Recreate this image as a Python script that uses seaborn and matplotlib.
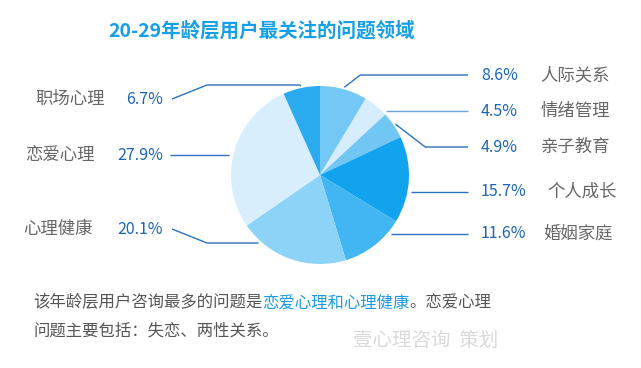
import numpy as np
import matplotlib.pyplot as plt
import seaborn as sns

# data
categories = ["人际关系", "情绪管理", "亲子教育", "个人成长", "婚姻家庭", "心理健康", "恋爱心理", "职场心理"]
shares = [8.6, 4.5, 4.9, 15.7, 11.6, 20.1, 27.9, 6.7]
slice_hex = ["#74c8f6", "#d5edfc", "#72c6f4", "#12a3ee", "#41b6f3", "#8dd3f8", "#d8eefc", "#2aabf0"]

title = "20-29年龄层用户最关注的问题领域"
note_line1 = ["该年龄层用户咨询最多的问题是", "恋爱心理和心理健康", "。恋爱心理"]
note_line2 = "问题主要包括：失恋、两性关系。"
credit = "壹心理咨询  策划"

sns.set_theme(style="white")
plt.rcParams['font.family'] = ['Noto Sans CJK SC', 'DejaVu Sans']

BLUE_TITLE = "#149fe8"
PCT_BLUE = "#1c64b4"
LINE_BLUE = "#2a72c0"
GREY = "#555555"
NAME_GREY = "#666666"

W, H = 641, 368
CX, CY, R = 320, 175, 89

# label layout in pixels: side, text y, leader y, name x
label_layout = {
    "人际关系": ("right", 75, 75, 540),
    "情绪管理": ("right", 111, 111, 541),
    "亲子教育": ("right", 147, 147, 541),
    "个人成长": ("right", 192, 192, 547),
    "婚姻家庭": ("right", 234, 234, 543),
    "心理健康": ("left", 229, 243, 93),
    "恋爱心理": ("left", 155, 155, 95),
    "职场心理": ("left", 99, 85, 105),
}

fig = plt.figure(figsize=(W / 100, H / 100), dpi=100)
fig.patch.set_facecolor("white")

# pie axes, square in pixels
pad = 1.1
ax = fig.add_axes([(CX - R * pad) / W, (H - CY - R * pad) / H, 2 * R * pad / W, 2 * R * pad / H])
colors = sns.color_palette(slice_hex)
wedges, _ = ax.pie(shares, colors=colors, startangle=90, counterclock=False,
                   wedgeprops=dict(linewidth=0))
ax.set_xlim(-pad, pad)
ax.set_ylim(-pad, pad)
ax.axis("off")

# overlay in pixel coords for texts and leader lines
ov = fig.add_axes([0, 0, 1, 1])
ov.set_xlim(0, W)
ov.set_ylim(H, 0)
ov.axis("off")
ov.patch.set_alpha(0)


def leader_points(w, side, line_y, text_y):
    sign = 1 if side == "right" else -1
    t1, t2 = w.theta1, w.theta2
    dy = CY - line_y
    pts = None
    if abs(dy) < R:
        dx = sign * np.sqrt(R ** 2 - dy ** 2)
        ang = np.degrees(np.arctan2(dy, dx))
        for a in (ang, ang - 360, ang + 360):
            if t1 <= a <= t2:
                pts = [(CX + dx + sign * 4, line_y)]
                break
    if pts is None:
        mid = np.radians((t1 + t2) / 2)
        sx = CX + (R + 2) * np.cos(mid)
        sy = CY - (R + 2) * np.sin(mid)
        pts = [(sx, sy), (sx + sign * abs(sy - line_y) * 1.3, line_y)]
    if side == "right":
        pts.append((468, line_y))
    elif text_y != line_y:
        pts.append((172 + 2.5 * abs(text_y - line_y), line_y))
        pts.append((172, text_y))
    else:
        pts.append((170, line_y))
    return pts


for w, name, val in zip(wedges, categories, shares):
    side, ty, ly, nx = label_layout[name]
    pts = np.array(leader_points(w, side, ly, ty))
    lc = "#6aa3da" if name == "情绪管理" else LINE_BLUE
    ov.plot(pts[:, 0], pts[:, 1], color=lc, lw=1.0, solid_capstyle="butt")
    if side == "right":
        ov.text(481, ty, f"{val}%", color=PCT_BLUE, fontsize=11.5, ha="left", va="center")
        ov.text(nx, ty, name, color=NAME_GREY, fontsize=12.5, ha="left", va="center")
    else:
        ov.text(163, ty, f"{val}%", color=PCT_BLUE, fontsize=11.5, ha="right", va="center")
        ov.text(nx, ty, name, color=NAME_GREY, fontsize=12.5, ha="right", va="center")

ov.text(262, 31, title, color=BLUE_TITLE, fontsize=14, fontweight="bold", ha="center", va="center")

# note with highlighted part
t = ov.text(33, 303, note_line1[0], color=GREY, fontsize=11.8, ha="left", va="center")
for s, c in zip(note_line1[1:], ["#1a9be6", GREY]):
    t = ov.annotate(s, xy=(1, 0), xycoords=t, color=c, fontsize=11.8, ha="left", va="bottom")
ov.text(33, 331, note_line2, color=GREY, fontsize=11.8, ha="left", va="center")

ov.text(353, 340, credit, color="#d9d9d9", fontsize=14, ha="left", va="center")

fig.savefig("out.png", dpi=100)
